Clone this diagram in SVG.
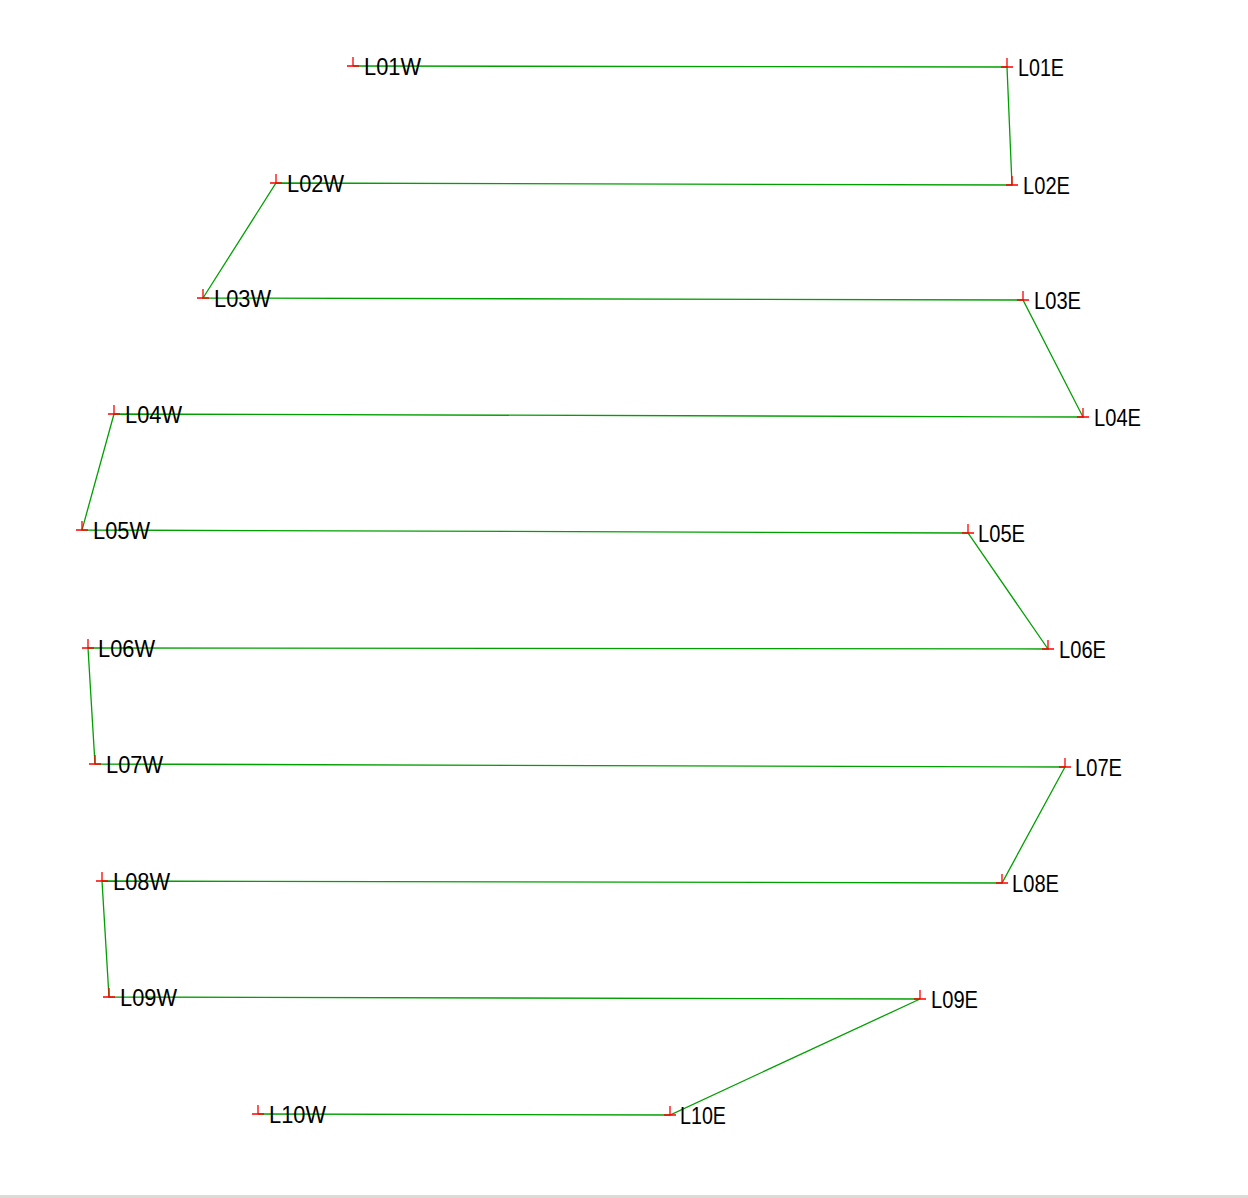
<svg xmlns="http://www.w3.org/2000/svg" width="1248" height="1198" viewBox="0 0 1248 1198">
<style>
.c{stroke:#00a000;stroke-width:1.3;fill:none}
.m{stroke:#ff0000;stroke-width:1.3;fill:none}
text{font-family:"Liberation Sans",Arial,sans-serif;font-size:24px;fill:#000}
</style>
<defs>
<path id="mk" d="M-6,0H6M0,-9V0"/>
</defs>
<rect x="0" y="0" width="1248" height="1198" fill="#ffffff"/>
<rect x="0" y="1195" width="1248" height="3" fill="#dedad6"/>
<g id="connectors">
<polyline class="c" points="353,66 1007,67 1012,185 276,183 203,298 1023,300 1083,417 114,414 82,530 968,533 1048,649 88,648 95,764 1065,767 1002,883 102,881 109,997 920,999 670,1115 258,1114"/>
</g>
<g id="L01W"><use href="#mk" class="m" x="353" y="66"/><text x="364" y="75" textLength="57" lengthAdjust="spacingAndGlyphs">L01W</text></g>
<g id="L01E"><use href="#mk" class="m" x="1007" y="67"/><text x="1018" y="76" textLength="46" lengthAdjust="spacingAndGlyphs">L01E</text></g>
<g id="L02W"><use href="#mk" class="m" x="276" y="183"/><text x="287" y="192" textLength="57" lengthAdjust="spacingAndGlyphs">L02W</text></g>
<g id="L02E"><use href="#mk" class="m" x="1012" y="185"/><text x="1023" y="194" textLength="47" lengthAdjust="spacingAndGlyphs">L02E</text></g>
<g id="L03W"><use href="#mk" class="m" x="203" y="298"/><text x="214" y="307" textLength="57" lengthAdjust="spacingAndGlyphs">L03W</text></g>
<g id="L03E"><use href="#mk" class="m" x="1023" y="300"/><text x="1034" y="309" textLength="47" lengthAdjust="spacingAndGlyphs">L03E</text></g>
<g id="L04W"><use href="#mk" class="m" x="114" y="414"/><text x="125" y="423" textLength="57" lengthAdjust="spacingAndGlyphs">L04W</text></g>
<g id="L04E"><use href="#mk" class="m" x="1083" y="417"/><text x="1094" y="426" textLength="47" lengthAdjust="spacingAndGlyphs">L04E</text></g>
<g id="L05W"><use href="#mk" class="m" x="82" y="530"/><text x="93" y="539" textLength="57" lengthAdjust="spacingAndGlyphs">L05W</text></g>
<g id="L05E"><use href="#mk" class="m" x="968" y="533"/><text x="978" y="542" textLength="47" lengthAdjust="spacingAndGlyphs">L05E</text></g>
<g id="L06W"><use href="#mk" class="m" x="88" y="648"/><text x="98" y="657" textLength="57" lengthAdjust="spacingAndGlyphs">L06W</text></g>
<g id="L06E"><use href="#mk" class="m" x="1048" y="649"/><text x="1059" y="658" textLength="47" lengthAdjust="spacingAndGlyphs">L06E</text></g>
<g id="L07W"><use href="#mk" class="m" x="95" y="764"/><text x="106" y="773" textLength="57" lengthAdjust="spacingAndGlyphs">L07W</text></g>
<g id="L07E"><use href="#mk" class="m" x="1065" y="767"/><text x="1075" y="776" textLength="47" lengthAdjust="spacingAndGlyphs">L07E</text></g>
<g id="L08W"><use href="#mk" class="m" x="102" y="881"/><text x="113" y="890" textLength="57" lengthAdjust="spacingAndGlyphs">L08W</text></g>
<g id="L08E"><use href="#mk" class="m" x="1002" y="883"/><text x="1012" y="892" textLength="47" lengthAdjust="spacingAndGlyphs">L08E</text></g>
<g id="L09W"><use href="#mk" class="m" x="109" y="997"/><text x="120" y="1006" textLength="57" lengthAdjust="spacingAndGlyphs">L09W</text></g>
<g id="L09E"><use href="#mk" class="m" x="920" y="999"/><text x="931" y="1008" textLength="47" lengthAdjust="spacingAndGlyphs">L09E</text></g>
<g id="L10W"><use href="#mk" class="m" x="258" y="1114"/><text x="269" y="1123" textLength="57" lengthAdjust="spacingAndGlyphs">L10W</text></g>
<g id="L10E"><use href="#mk" class="m" x="670" y="1115"/><text x="680" y="1124" textLength="46" lengthAdjust="spacingAndGlyphs">L10E</text></g>
</svg>
